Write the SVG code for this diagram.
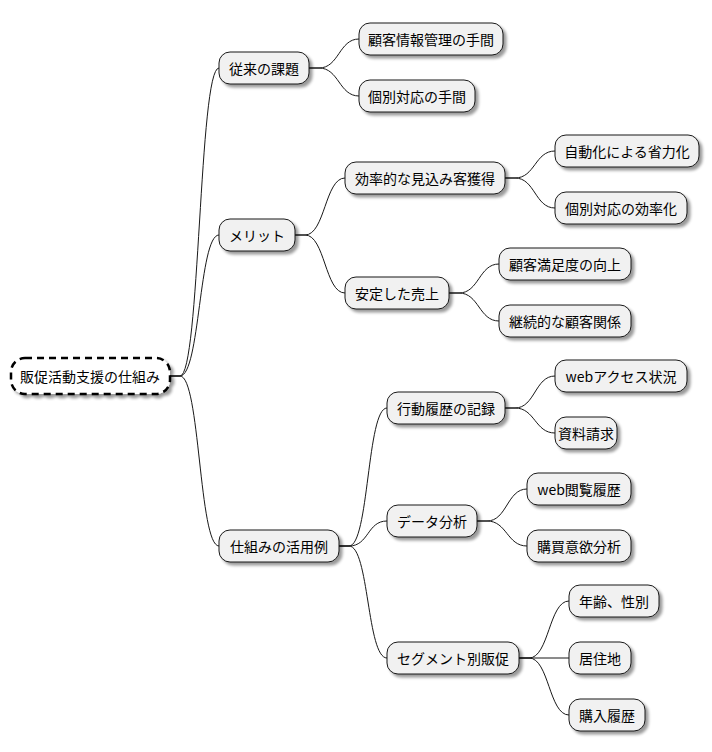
<svg xmlns="http://www.w3.org/2000/svg" width="712" height="752" viewBox="0 0 712 752">
<defs>
<filter id="sh" x="-10%" y="-20%" width="130%" height="160%"><feGaussianBlur in="SourceAlpha" stdDeviation="1.5"/><feOffset dx="3" dy="3"/><feComponentTransfer><feFuncA type="linear" slope="0.4"/></feComponentTransfer><feMerge><feMergeNode/><feMergeNode in="SourceGraphic"/></feMerge></filter>
</defs>
<style>
.n rect{fill:#F1F1F1;stroke:#181818;stroke-width:1;filter:url(#sh)}
.r rect{fill:#FFFFFF;stroke:#000;stroke-width:2.5;stroke-dasharray:7,5;filter:url(#sh)}
text{font-family:"Noto Sans CJK JP","Noto Sans",sans-serif;font-size:14px;fill:#000;text-anchor:middle;dominant-baseline:central}
#c path{fill:none;stroke:#181818;stroke-width:1}
</style>
<rect width="712" height="752" fill="#fff"/>
<g id="c">
<path d="M170,376 H180 C200,376 199,68 219,68"/>
<path d="M170,376 H180 C200,376 199,235 219,235"/>
<path d="M170,376 H180 C200,376 199,546 219,546"/>
<path d="M309,68 H319 C339,68 339,39 359,39"/>
<path d="M309,68 H319 C339,68 339,96 359,96"/>
<path d="M295,235 H305 C325,235 325,178 345,178"/>
<path d="M295,235 H305 C325,235 325,293 345,293"/>
<path d="M339,546 H349 C369,546 367,408 387,408"/>
<path d="M339,546 H349 C369,546 367,521 387,521"/>
<path d="M339,546 H349 C369,546 367,658 387,658"/>
<path d="M505,178 H515 C535,178 535,151 555,151"/>
<path d="M505,178 H515 C535,178 535,208 555,208"/>
<path d="M449,293 H459 C479,293 479,264 499,264"/>
<path d="M449,293 H459 C479,293 479,321 499,321"/>
<path d="M505,408 H515 C535,408 535,376 555,376"/>
<path d="M505,408 H515 C535,408 535,433 555,433"/>
<path d="M477,521 H487 C507,521 507,489 527,489"/>
<path d="M477,521 H487 C507,521 507,546 527,546"/>
<path d="M519,658 H529 C549,658 549,601 569,601"/>
<path d="M519,658 H569"/>
<path d="M519,658 H529 C549,658 549,715 569,715"/>
</g>
<g id="root" class="r"><rect x="11" y="358" width="159" height="36" rx="14"/><text x="90" y="376">販促活動支援の仕組み</text></g>
<g id="n1" class="n"><rect x="219" y="52" width="90" height="32" rx="11"/><text x="264" y="68">従来の課題</text></g>
<g id="n2" class="n"><rect x="219" y="219" width="76" height="32" rx="11"/><text x="257" y="235">メリット</text></g>
<g id="n3" class="n"><rect x="219" y="530" width="120" height="32" rx="11"/><text x="279" y="546">仕組みの活用例</text></g>
<g id="n11" class="n"><rect x="359" y="23" width="144" height="32" rx="11"/><text x="431" y="39">顧客情報管理の手間</text></g>
<g id="n12" class="n"><rect x="359" y="80" width="116" height="32" rx="11"/><text x="417" y="96">個別対応の手間</text></g>
<g id="n21" class="n"><rect x="345" y="162" width="160" height="32" rx="11"/><text x="425" y="178">効率的な見込み客獲得</text></g>
<g id="n22" class="n"><rect x="345" y="277" width="104" height="32" rx="11"/><text x="397" y="293">安定した売上</text></g>
<g id="n31" class="n"><rect x="387" y="392" width="118" height="32" rx="11"/><text x="446" y="408">行動履歴の記録</text></g>
<g id="n32" class="n"><rect x="387" y="505" width="90" height="32" rx="11"/><text x="432" y="521">データ分析</text></g>
<g id="n33" class="n"><rect x="387" y="642" width="132" height="32" rx="11"/><text x="453" y="658">セグメント別販促</text></g>
<g id="n211" class="n"><rect x="555" y="135" width="144" height="32" rx="11"/><text x="627" y="151">自動化による省力化</text></g>
<g id="n212" class="n"><rect x="555" y="192" width="132" height="32" rx="11"/><text x="621" y="208">個別対応の効率化</text></g>
<g id="n221" class="n"><rect x="499" y="248" width="132" height="32" rx="11"/><text x="565" y="264">顧客満足度の向上</text></g>
<g id="n222" class="n"><rect x="499" y="305" width="132" height="32" rx="11"/><text x="565" y="321">継続的な顧客関係</text></g>
<g id="n311" class="n"><rect x="555" y="360" width="132" height="32" rx="11"/><text x="621" y="376">webアクセス状況</text></g>
<g id="n312" class="n"><rect x="555" y="417" width="62" height="32" rx="11"/><text x="586" y="433">資料請求</text></g>
<g id="n321" class="n"><rect x="527" y="473" width="104" height="32" rx="11"/><text x="579" y="489">web閲覧履歴</text></g>
<g id="n322" class="n"><rect x="527" y="530" width="104" height="32" rx="11"/><text x="579" y="546">購買意欲分析</text></g>
<g id="n331" class="n"><rect x="569" y="585" width="90" height="32" rx="11"/><text x="614" y="601">年齢、性別</text></g>
<g id="n332" class="n"><rect x="569" y="642" width="62" height="32" rx="11"/><text x="600" y="658">居住地</text></g>
<g id="n333" class="n"><rect x="569" y="699" width="76" height="32" rx="11"/><text x="607" y="715">購入履歴</text></g>
</svg>
